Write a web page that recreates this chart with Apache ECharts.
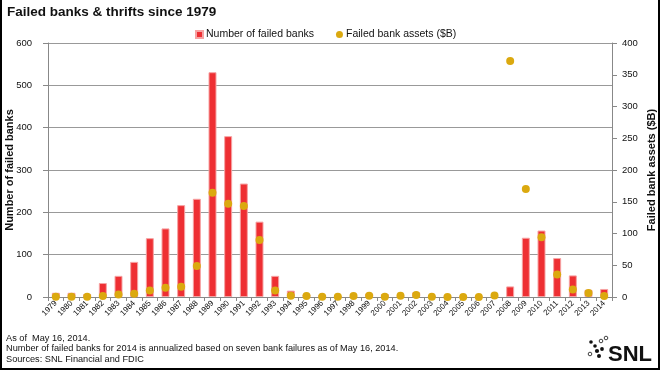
<!DOCTYPE html>
<html>
<head>
<meta charset="utf-8">
<script src="https://cdn.jsdelivr.net/npm/echarts@6/dist/echarts.min.js"></script>
<style>html,body{margin:0;padding:0;background:#fff}#c{width:660px;height:370px}</style>
</head>
<body>
<div id="c"></div>
<script>
var years = ['1979','1980','1981','1982','1983','1984','1985','1986','1987','1988','1989','1990','1991','1992','1993','1994','1995','1996','1997','1998','1999','2000','2001','2002','2003','2004','2005','2006','2007','2008','2009','2010','2011','2012','2013','2014'];
var failedBanks = [10,10,7,33,50,83,139,162,217,232,531,380,268,178,50,15,6,5,1,3,8,7,4,11,3,4,0,0,3,25,140,157,92,51,17,19];
var failedAssets = [0.5,0.3,0.3,1.5,4,5,10.4,14.6,16,48.7,164,146.7,143.5,89.6,10.4,2,1.5,0.5,0.3,1.5,2,0.5,2,3,0.5,0,0,0,2.5,371.5,170,94,35.6,12,6.3,1.5];
var leftTicks = {min:0, max:600, interval:100};
var rightTicks = {min:0, max:400, interval:50};
var noteLines = ['As of  May 16, 2014.','Number of failed banks for 2014 is annualized based on seven bank failures as of May 16, 2014.','Sources: SNL Financial and FDIC'];

var chart = echarts.init(document.getElementById('c'), null, {renderer:'canvas'});
var reg = '"Liberation Sans", Arial, sans-serif';
var graphics = [
  {type:'text', x:7, y:12.5, style:{text:'Failed banks & thrifts since 1979', font:'bold 13.5px "Liberation Sans", Arial, sans-serif', fill:'#111', verticalAlign:'middle'}},
  {type:'polyline', shape:{points:[[1,0],[1,369],[659,369],[659,0]]}, style:{stroke:'#000', lineWidth:2, fill:null}},
  {type:'text', x:608, y:355, style:{text:'SNL', font:'bold 22px "Liberation Sans", Arial, sans-serif', fill:'#111', verticalAlign:'middle', align:'left'}}
];
noteLines.forEach(function(t,i){
  graphics.push({type:'text', x:6, y:[338.5,348.5,359][i], style:{text:t, font:'9.2px "Liberation Sans", Arial, sans-serif', fill:'#111', verticalAlign:'middle'}});
});
var filledDots = [[591,342,1.8],[595,346,1.8],[597,351,2.1],[602,349,1.9],[599,356,2]];
var hollowDots = [[601,341,1.8],[606,338,1.8],[590,354,1.8]];
filledDots.forEach(function(d){graphics.push({type:'circle', shape:{cx:d[0],cy:d[1],r:d[2]}, style:{fill:'#111'}});});
hollowDots.forEach(function(d){graphics.push({type:'circle', shape:{cx:d[0],cy:d[1],r:d[2]}, style:{fill:'#fff', stroke:'#111', lineWidth:0.8}});});

chart.setOption({
  animation:false,
  backgroundColor:'#fff',
  textStyle:{fontFamily:reg},
  legend:{
    top:24, left:190, itemWidth:7, itemHeight:7, itemGap:22,
    textStyle:{fontSize:10.5, color:'#111', fontFamily:reg, padding:[0,0,0,-2]},
    data:[{name:'Number of failed banks', icon:'rect'},{name:'Failed bank assets ($B)', icon:'circle'}]
  },
  grid:{left:48, right:48, top:43, bottom:73, containLabel:false, outerBoundsMode:'none'},
  xAxis:{
    type:'category', data:years, boundaryGap:true,
    axisLine:{lineStyle:{color:'#888', width:1}},
    axisTick:{show:true, length:4, lineStyle:{color:'#888'}, alignWithLabel:false},
    axisLabel:{rotate:45, fontSize:8, color:'#111', margin:5, interval:0}
  },
  yAxis:[
    {type:'value', min:leftTicks.min, max:leftTicks.max, interval:leftTicks.interval,
     name:'Number of failed banks', nameLocation:'middle', nameGap:33, nameRotate:90, nameMoveOverlap:false,
     nameTextStyle:{fontWeight:'bold', fontSize:11, color:'#111', fontFamily:reg},
     axisLine:{show:true, lineStyle:{color:'#888'}}, axisTick:{show:true, length:5, lineStyle:{color:'#888'}},
     axisLabel:{fontSize:9.5, color:'#111', margin:16},
     splitLine:{show:true, lineStyle:{color:'#999', width:1}}},
    {type:'value', min:rightTicks.min, max:rightTicks.max, interval:rightTicks.interval, position:'right',
     name:'Failed bank assets ($B)', nameLocation:'middle', nameGap:34, nameRotate:90, nameMoveOverlap:false,
     nameTextStyle:{fontWeight:'bold', fontSize:11, color:'#111', fontFamily:reg},
     axisLine:{show:true, lineStyle:{color:'#888'}}, axisTick:{show:true, length:5, lineStyle:{color:'#888'}},
     axisLabel:{fontSize:9.5, color:'#111', margin:10},
     splitLine:{show:false}}
  ],
  series:[
    {name:'Number of failed banks', type:'bar', yAxisIndex:0, data:failedBanks, barWidth:8,
     itemStyle:{color:'#EE2F33', borderColor:'#F6A3A3', borderWidth:1}},
    {name:'Failed bank assets ($B)', type:'scatter', yAxisIndex:1, data:failedAssets, symbolSize:8,
     itemStyle:{color:'#DBA90F', opacity:1}, z:5}
  ],
  graphic:graphics
});
</script>
</body>
</html>
